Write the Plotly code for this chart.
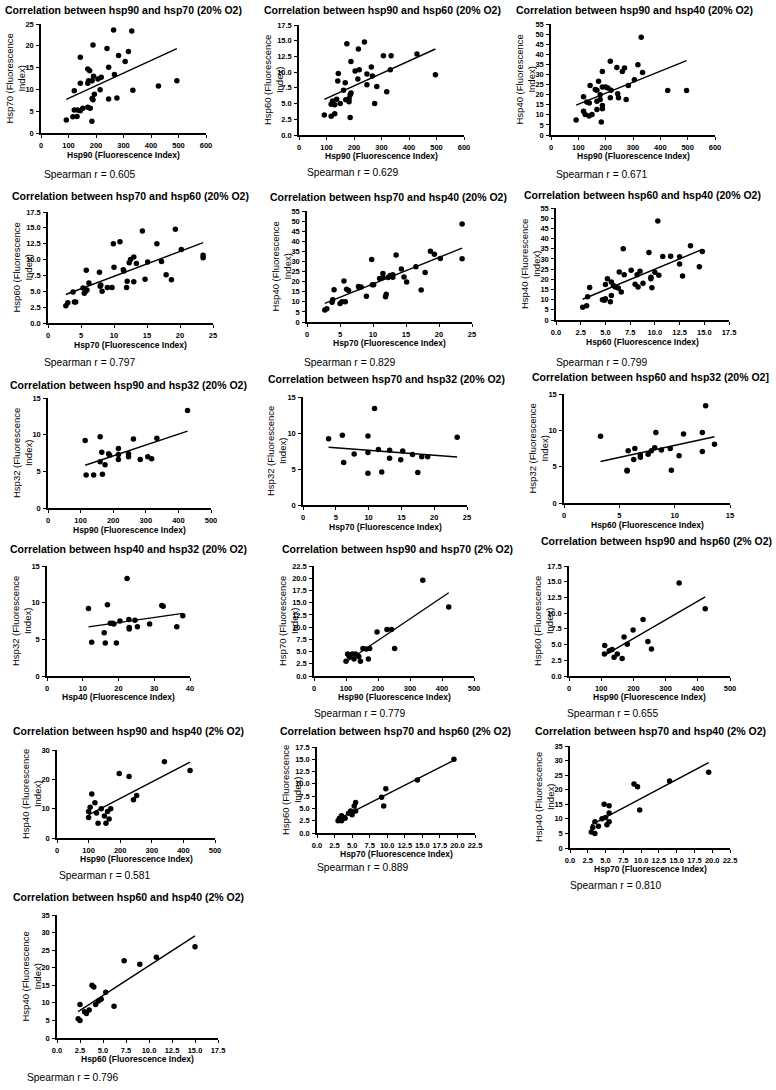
import numpy as np
import plotly.graph_objects as go

# ---------------- data ----------------
p1_hsp90 = [92,116,131,121,133,143,152,170,179,185,186,189,194,121,143,170,173,186,170,177,143,189,207,219,215,191,240,246,246,264,267,276,282,306,318,330,334,427,494]
p1_hsp70 = [3.0,3.7,3.8,5.3,5.3,5.1,5.7,5.9,5.7,2.7,7.9,7.6,8.9,9.7,11.4,11.4,12.0,12.0,14.7,14.3,17.4,20.2,12.4,12.8,9.9,13.0,19.4,15.1,7.8,23.6,13.4,8.0,17.8,16.4,18.7,23.4,9.8,10.8,12.0]

p2_hsp90 = [92,117,130,117,122,130,137,150,141,143,162,168,170,180,182,186,189,182,186,174,189,204,219,216,214,238,247,247,263,267,275,283,307,319,332,335,429,496]
p2_hsp60 = [3.2,3.0,3.4,4.9,5.4,4.8,5.7,5.0,8.6,9.8,7.1,8.3,5.6,5.6,5.8,6.4,6.7,5.3,2.8,14.5,11.7,10.2,10.4,13.7,8.9,14.8,9.7,8.0,10.8,9.4,5.0,7.7,12.6,6.9,10.4,12.6,12.9,9.6]

p3_hsp90 = [92,119,119,125,139,150,131,140,143,162,168,168,168,174,180,180,184,188,188,188,188,200,208,217,217,220,241,244,247,261,269,275,283,305,318,330,335,427,496]
p3_hsp40 = [7.4,18.9,11.8,10.2,9.4,10.2,16.3,15.9,24.5,22.5,22.2,16.7,12.6,26.6,20.0,17.6,6.4,31.5,23.8,14.6,13.0,23.8,23.3,36.5,18.4,22.2,33.5,20.4,18.4,31.5,33.2,17.6,24.5,27.4,34.8,48.4,31.0,22.0,22.0]

p4_hsp70 = [2.7,3.0,3.8,4.0,4.2,5.3,5.5,5.7,5.9,5.8,6.2,7.8,7.9,8.0,8.2,9.0,9.7,9.9,10.0,10.9,11.4,11.5,11.9,12.0,12.3,12.5,13.0,13.0,13.4,14.3,14.7,15.1,16.5,17.2,17.9,18.7,19.3,20.2,23.5,23.5]
p4_hsp60 = [2.7,3.2,4.9,3.3,3.3,5.5,4.7,5.0,5.2,8.3,6.3,8.0,5.8,6.0,5.0,5.6,5.6,12.5,8.8,12.8,8.4,8.2,5.6,6.6,9.5,10.0,10.4,6.5,9.4,14.5,6.9,9.6,12.5,9.7,7.6,6.8,14.8,11.6,10.3,10.7]

p5_hsp70 = [2.7,3.0,3.8,3.9,4.1,5.0,5.3,5.6,5.8,6.0,6.3,7.8,7.9,8.2,9.0,9.8,9.9,10.1,11.0,11.5,11.5,11.9,12.0,12.3,12.6,13.0,13.0,13.5,14.3,14.7,15.1,16.5,17.3,17.9,18.7,19.3,20.2,23.5,23.5]
p5_hsp40 = [6.0,6.6,9.8,11.0,16.0,9.2,10.0,20.3,10.0,16.2,15.6,17.6,17.0,17.3,12.7,31.0,18.4,18.5,21.6,22.0,24.0,12.5,13.7,22.0,23.0,22.2,23.4,33.2,26.2,22.3,19.8,27.4,15.8,24.5,35.0,33.6,31.5,48.6,31.3]

p6_hsp60 = [2.7,3.1,3.2,3.4,4.7,4.9,5.0,5.0,5.2,5.5,5.6,5.6,5.8,6.0,6.3,6.4,6.6,6.8,6.9,7.6,8.0,8.2,8.3,8.5,8.8,9.4,9.6,9.6,9.7,10.0,10.3,10.4,10.8,11.6,12.5,12.5,12.8,13.6,14.5,14.8]
p6_hsp40 = [6.2,7.0,11.4,16.0,10.0,9.7,10.4,17.4,20.2,9.0,12.0,18.6,17.0,16.2,15.7,23.6,13.8,35.0,22.2,24.4,17.6,22.2,16.2,24.0,18.1,33.1,21.0,20.3,15.8,23.4,48.6,22.0,31.2,31.3,31.0,27.5,21.6,36.5,26.2,33.6]

p7_hsp90 = [114,117,140,160,165,160,167,175,186,189,216,216,216,247,247,262,283,306,318,334,428]
p7_hsp32 = [9.2,4.5,4.5,9.7,7.6,6.3,4.6,5.9,7.4,7.2,8.1,7.3,6.6,7.4,7.0,9.4,6.6,7.0,6.7,9.5,13.3]

p8_hsp70 = [3.9,6.0,6.2,7.8,9.9,9.9,9.9,10.9,11.5,12.0,13.2,13.2,14.9,15.2,16.7,17.5,18.1,19.0,23.5]
p8_hsp32 = [9.2,9.7,5.9,7.1,9.6,7.3,4.4,13.4,7.7,4.6,7.6,6.5,6.3,7.5,7.0,4.5,6.7,6.7,9.4]

p9_hsp60 = [3.3,5.7,5.7,5.8,6.3,6.4,6.9,6.9,7.6,7.9,8.2,8.3,8.8,9.6,9.7,10.4,10.8,12.5,12.5,12.8,13.6]
p9_hsp32 = [9.2,4.5,4.4,7.2,6.0,7.5,6.3,6.6,6.7,7.2,7.6,9.7,7.3,7.5,4.5,6.5,9.5,9.7,7.1,13.4,8.1]

p10_hsp40 = [11.6,12.5,16.0,16.3,16.9,17.7,18.4,18.7,19.4,20.4,22.4,22.9,23.0,23.0,24.6,25.3,28.7,32.1,32.5,36.3,38.0]
p10_hsp32 = [9.2,4.6,5.9,4.5,9.7,7.2,7.2,7.1,4.5,7.5,13.3,7.7,6.6,6.4,7.6,6.7,7.1,9.6,9.5,6.7,8.2]

p11_hsp90 = [100,105,110,120,125,130,140,145,153,163,174,170,197,228,242,252,340,421]
p11_hsp70 = [3.0,4.5,4.0,4.5,3.5,4.5,4.0,3.0,5.6,5.5,5.6,3.5,9.0,9.5,9.5,5.6,19.6,14.1]

p12_hsp90 = [111,110,125,134,140,150,171,181,165,199,230,245,256,342,423]
p12_hsp60 = [4.85,3.5,4.0,4.2,3.0,3.5,6.2,5.05,2.8,7.3,9.0,5.5,4.3,14.8,10.7]

p13_hsp90 = [100,100,105,110,120,125,130,140,150,155,160,165,170,197,228,242,252,340,421]
p13_hsp40 = [7.0,9.0,10.5,15.0,12.0,8.5,5.0,10.0,7.5,5.0,9.0,6.5,10.0,22.0,21.0,13.0,14.5,26.0,23.0]

p14_hsp70 = [3.0,3.2,3.5,3.5,4.0,4.5,4.8,5.0,5.3,5.5,5.5,9.2,9.5,9.8,14.3,19.5]
p14_hsp60 = [2.5,3.0,2.5,3.5,3.0,4.0,4.5,3.7,5.5,6.2,4.5,7.3,5.5,9.0,10.8,15.0]

p15_hsp70 = [3.0,3.2,3.5,3.5,4.0,4.5,4.8,5.0,5.2,5.5,5.5,5.5,9.0,9.5,9.8,14.0,19.5]
p15_hsp40 = [5.5,7.0,5.0,9.0,7.5,10.0,15.0,10.5,8.0,9.0,14.5,12.0,22.0,21.0,13.0,23.0,26.0]

p16_hsp60 = [2.3,2.5,2.5,3.0,3.2,3.5,3.8,4.0,4.2,4.5,4.8,5.3,6.2,7.3,9.0,10.8,15.0]
p16_hsp40 = [5.5,9.5,5.0,7.5,7.0,8.0,15.0,14.5,9.5,10.5,11.0,13.0,9.0,22.0,21.0,23.0,26.0]

titles = [
    "Correlation between hsp90 and hsp70 (20% O2)",
    "Correlation between hsp90 and hsp60 (20% O2)",
    "Correlation between hsp90 and hsp40 (20% O2)",
    "Correlation between hsp70 and hsp60 (20% O2)",
    "Correlation between hsp70 and hsp40 (20% O2)",
    "Correlation between hsp60 and hsp40 (20% O2)",
    "Correlation between hsp90 and hsp32 (20% O2)",
    "Correlation between hsp70 and hsp32 (20% O2)",
    "Correlation between hsp60 and hsp32 (20% O2]",
    "Correlation between hsp40 and hsp32 (20% O2)",
    "Correlation between hsp90 and hsp70 (2% O2)",
    "Correlation between hsp90 and hsp60 (2% O2)",
    "Correlation between hsp90 and hsp40 (2% O2)",
    "Correlation between hsp70 and hsp60 (2% O2)",
    "Correlation between hsp70 and hsp40 (2% O2)",
    "Correlation between hsp60 and hsp40 (2% O2)",
]
x_names = ["Hsp90","Hsp90","Hsp90","Hsp70","Hsp70","Hsp60","Hsp90","Hsp70","Hsp60","Hsp40",
           "Hsp90","Hsp90","Hsp90","Hsp70","Hsp70","Hsp60"]
y_names = ["Hsp70","Hsp60","Hsp40","Hsp60","Hsp40","Hsp40","Hsp32","Hsp32","Hsp32","Hsp32",
           "Hsp70","Hsp60","Hsp40","Hsp60","Hsp40","Hsp40"]
spearman = ["0.605","0.629","0.671","0.797","0.829","0.799",None,None,None,None,
            "0.779","0.655","0.581","0.889","0.810","0.796"]
x_max = [600,600,600,25,25,17.5,500,25,15,40,500,500,500,22.5,22.5,17.5]
x_step = [100,100,100,5,5,2.5,100,5,5,10,100,100,100,2.5,2.5,2.5]
y_max = [25,17.5,55,17.5,55,55,15,15,15,15,22.5,17.5,30,17.5,35,35]
y_step = [5,2.5,5,2.5,5,5,5,5,5,5,2.5,2.5,10,2.5,5,5]

xs = [p1_hsp90,p2_hsp90,p3_hsp90,p4_hsp70,p5_hsp70,p6_hsp60,p7_hsp90,p8_hsp70,p9_hsp60,p10_hsp40,
      p11_hsp90,p12_hsp90,p13_hsp90,p14_hsp70,p15_hsp70,p16_hsp60]
ys = [p1_hsp70,p2_hsp60,p3_hsp40,p4_hsp60,p5_hsp40,p6_hsp40,p7_hsp32,p8_hsp32,p9_hsp32,p10_hsp32,
      p11_hsp70,p12_hsp60,p13_hsp40,p14_hsp60,p15_hsp40,p16_hsp40]

# ---------------- layout (pixel boxes of each panel) ----------------
W, H = 776, 1090
boxes = [
    dict(x0=41, x1=206, yt=24, yb=133, tx=123, ty=10, xty=155, sx=42, sy=174),
    dict(x0=299, x1=464, yt=25, yb=135, tx=382, ty=10, xty=156, sx=305, sy=173),
    dict(x0=551, x1=715, yt=24, yb=135, tx=634, ty=10, xty=156, sx=554, sy=174),
    dict(x0=48, x1=213, yt=212, yb=323, tx=130, ty=196, xty=345, sx=42, sy=363),
    dict(x0=307, x1=472, yt=211, yb=322, tx=388, ty=197, xty=343, sx=302, sy=363),
    dict(x0=556, x1=729, yt=208, yb=320, tx=642, ty=195, xty=342, sx=554, sy=363),
    dict(x0=48, x1=211, yt=398, yb=508, tx=128, ty=385, xty=530, sx=0, sy=0),
    dict(x0=303, x1=467, yt=397, yb=505, tx=386, ty=379, xty=527, sx=0, sy=0),
    dict(x0=564, x1=730, yt=394, yb=503, tx=650, ty=377, xty=525, sx=0, sy=0),
    dict(x0=47, x1=190, yt=566, yb=676, tx=128, ty=549, xty=697, sx=0, sy=0),
    dict(x0=314, x1=474, yt=566, yb=676, tx=398, ty=549, xty=697, sx=312, sy=713),
    dict(x0=569, x1=730, yt=566, yb=676, tx=656, ty=541, xty=697, sx=565, sy=713),
    dict(x0=57, x1=215, yt=750, yb=838, tx=128, ty=731, xty=859, sx=57, sy=875),
    dict(x0=317, x1=475, yt=747, yb=833, tx=395, ty=731, xty=854, sx=315, sy=867),
    dict(x0=570, x1=730, yt=746, yb=848, tx=650, ty=731, xty=869, sx=568, sy=885),
    dict(x0=57, x1=218, yt=915, yb=1038, tx=128, ty=897, xty=1059, sx=25, sy=1077),
]

FONT = "Arial, 'Liberation Sans', sans-serif"
fig = go.Figure()
annotations = []

def px(x):
    return x / W

def py(y):
    return 1 - y / H

for i in range(16):
    b = boxes[i]
    n = i + 1
    xa = "x" if n == 1 else f"x{n}"
    ya = "y" if n == 1 else f"y{n}"
    x = np.array(xs[i], dtype=float)
    y = np.array(ys[i], dtype=float)
    fig.add_trace(go.Scatter(x=x, y=y, mode="markers", xaxis=xa, yaxis=ya,
                             marker=dict(color="black", size=5.5), cliponaxis=False,
                             hoverinfo="skip"))
    k, c = np.polyfit(x, y, 1)
    lx = np.array([x.min(), x.max()])
    fig.add_trace(go.Scatter(x=lx, y=k * lx + c, mode="lines", xaxis=xa, yaxis=ya,
                             line=dict(color="black", width=1.4), cliponaxis=False,
                             hoverinfo="skip"))
    xfmt = ".1f" if x_step[i] == 2.5 else "d"
    yfmt = ".1f" if y_step[i] == 2.5 else "d"
    axis_common = dict(showline=True, linecolor="black", linewidth=1.5, ticks="outside",
                       ticklen=3, tickwidth=1.3, tickcolor="black", showgrid=False,
                       zeroline=False, automargin=False,
                       tickfont=dict(family=FONT, size=7.5, color="black", weight="bold"))
    xk = "xaxis" if n == 1 else f"xaxis{n}"
    yk = "yaxis" if n == 1 else f"yaxis{n}"
    fig.update_layout(**{
        xk: dict(domain=[px(b["x0"]), px(b["x1"])], anchor=ya, range=[0, x_max[i]],
                 tick0=0, dtick=x_step[i], tickformat=xfmt, ticklabelstandoff=1, **axis_common),
        yk: dict(domain=[py(b["yb"]), py(b["yt"])], anchor=xa, range=[0, y_max[i]],
                 tick0=0, dtick=y_step[i], tickformat=yfmt, ticklabelstandoff=1, **axis_common),
    })
    annotations.append(dict(text=f"<b>{titles[i]}</b>", x=px(b["tx"]), y=py(b["ty"]),
                            xref="paper", yref="paper", showarrow=False, xanchor="center",
                            yanchor="middle", font=dict(family=FONT, size=10.5, color="black")))
    annotations.append(dict(text=f"<b>{x_names[i]} (Fluorescence Index)</b>",
                            x=px((b["x0"] + b["x1"]) / 2), y=py(b["xty"]),
                            xref="paper", yref="paper", showarrow=False, xanchor="center",
                            yanchor="middle", font=dict(family=FONT, size=8.5, color="black")))
    annotations.append(dict(text=f"{y_names[i]} (Fluorescence<br>Index)",
                            x=px(b["x0"] - 26), y=py((b["yt"] + b["yb"]) / 2),
                            xref="paper", yref="paper", showarrow=False, xanchor="center",
                            yanchor="middle", textangle=-90,
                            font=dict(family=FONT, size=9.5, color="black")))
    if spearman[i]:
        annotations.append(dict(text=f"Spearman r = {spearman[i]}", x=px(b["sx"]), y=py(b["sy"]),
                                xref="paper", yref="paper", showarrow=False, xanchor="left",
                                yanchor="middle", font=dict(family=FONT, size=10.3, color="black")))

fig.update_layout(width=W, height=H, margin=dict(l=0, r=0, t=0, b=0, autoexpand=False),
                  paper_bgcolor="white", plot_bgcolor="white", showlegend=False,
                  annotations=annotations)
fig.write_html("out.html", config={"displayModeBar": False},
               post_script="document.body.style.margin='0';document.body.style.overflow='hidden';")
